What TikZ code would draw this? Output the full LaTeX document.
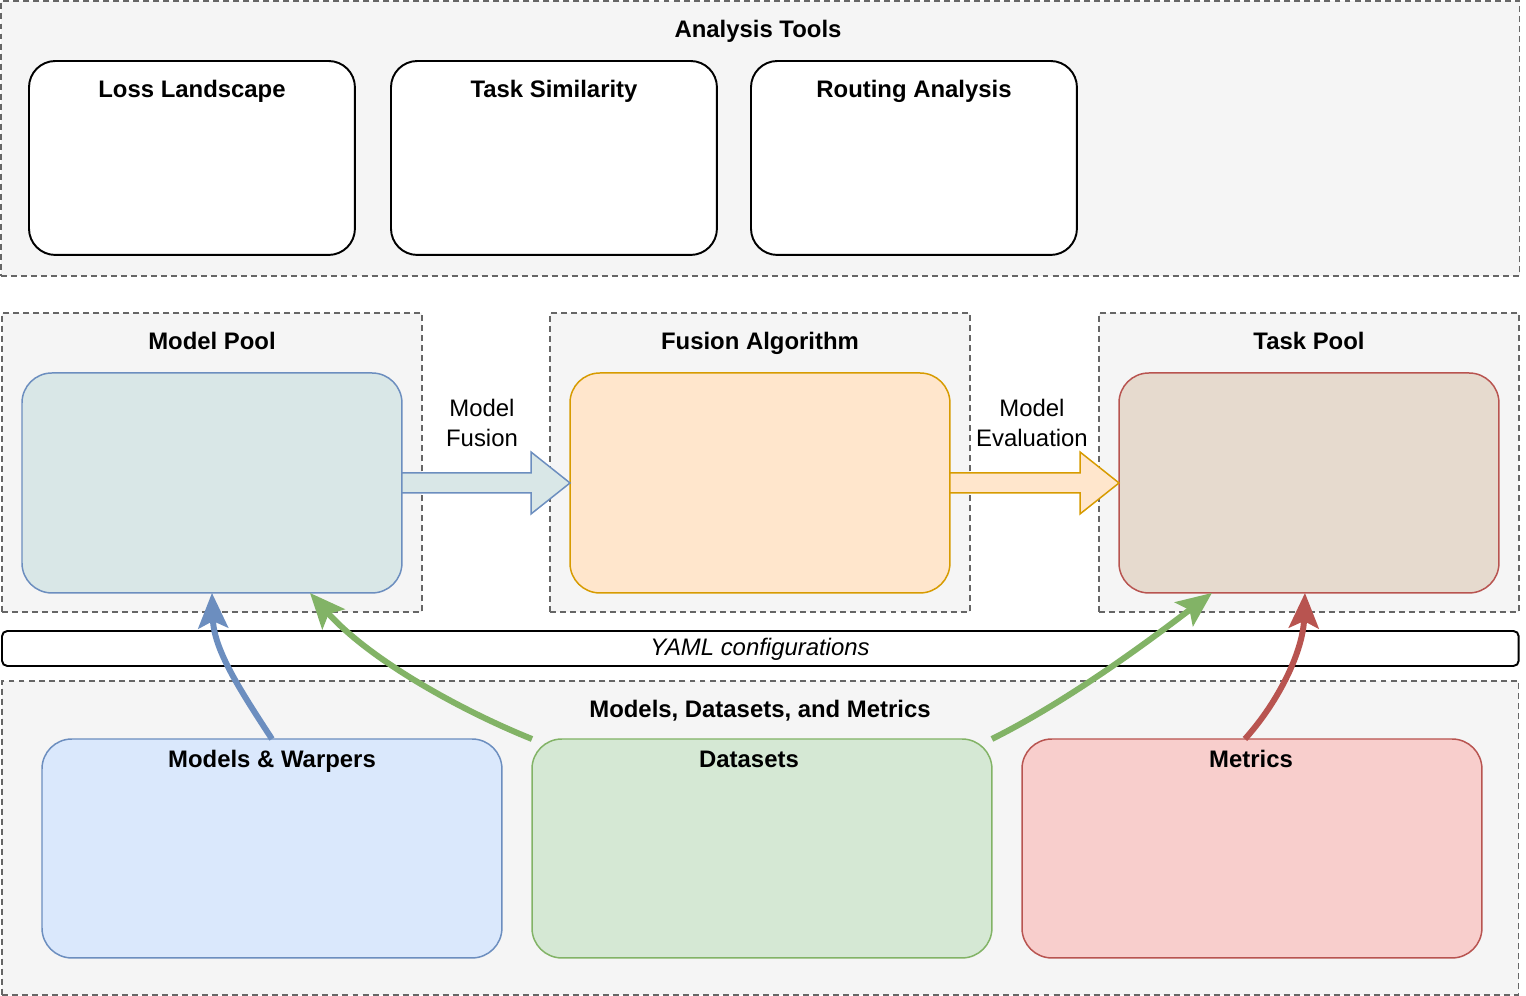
\documentclass[tikz,border=0pt]{standalone}
\usepackage{fontspec}
\setmainfont{Liberation Sans}
\usetikzlibrary{arrows.meta,calc}
\definecolor{cgray}{HTML}{666666}
\definecolor{cfill}{HTML}{F5F5F5}
\definecolor{bstroke}{HTML}{6C8EBF}
\definecolor{mpfill}{HTML}{D9E7E7}
\definecolor{ostroke}{HTML}{D79B00}
\definecolor{ofill}{HTML}{FFE6CC}
\definecolor{rstroke}{HTML}{B85450}
\definecolor{tpfill}{HTML}{E6DACE}
\definecolor{bfill}{HTML}{DAE8FC}
\definecolor{gstroke}{HTML}{82B366}
\definecolor{gfill}{HTML}{D5E8D4}
\definecolor{rfill}{HTML}{F8CECC}
\begin{document}
\begin{tikzpicture}[x=0.02cm,y=-0.02cm,
  font=\fontsize{13.6}{17}\selectfont,
  container/.style={draw=cgray, fill=cfill, dash pattern=on 3.4pt off 2.3pt, line width=0.7pt, inner sep=0pt, outer sep=0pt, anchor=north west},
  toolbox/.style={draw=black, fill=white, line width=1.1pt, rounded corners=15pt, inner sep=0pt, outer sep=0pt, anchor=north west, minimum width=6.52cm, minimum height=3.88cm},
  poolbox/.style={line width=0.85pt, rounded corners=17pt, inner sep=0pt, outer sep=0pt, anchor=north west, minimum width=7.6cm, minimum height=4.4cm},
  basebox/.style={line width=0.85pt, rounded corners=17pt, inner sep=0pt, outer sep=0pt, anchor=north west, minimum width=9.2cm, minimum height=4.38cm},
  title/.style={font=\fontsize{13.6}{17}\selectfont\bfseries, inner sep=0pt, anchor=base},
  lbl/.style={align=center, inner sep=0pt, font=\fontsize{13.6}{17}\selectfont},
  curvy/.style={line width=3.4pt, -{Stealth[length=20pt,width=17pt,inset=4pt]}},
  blockarrow/.style={line width=0.85pt, line join=miter}
]
\useasboundingbox (0,0) rectangle (1526,996);

% Analysis tools
\node[container, minimum width=30.38cm, minimum height=5.5cm] (at) at (1,1) {};
\node[title] (att) at (758,38) {Analysis Tools};
\node[toolbox] (ll) at (29,61) {};
\node[toolbox] (ts) at (391,61) {};
\node[toolbox] (ra) at (751,61) {};
\node[title] (llt) at (192,98) {Loss Landscape};
\node[title] (tst) at (554,98) {Task Similarity};
\node[title] (rat) at (914,98) {Routing Analysis};

% Pools
\node[container, minimum width=8.4cm, minimum height=5.98cm] (mpc) at (2,313) {};
\node[container, minimum width=8.4cm, minimum height=5.98cm] (fac) at (550,313) {};
\node[container, minimum width=8.4cm, minimum height=5.98cm] (tpc) at (1099,313) {};
\node[title] (mpt) at (212,350) {Model Pool};
\node[title] (fat) at (760,350) {Fusion Algorithm};
\node[title] (tpt) at (1309,350) {Task Pool};
\node[poolbox, draw=bstroke, fill=mpfill] (mp) at (22,373) {};
\node[poolbox, draw=ostroke, fill=ofill] (fa) at (570,373) {};
\node[poolbox, draw=rstroke, fill=tpfill] (tp) at (1119,373) {};

% Block arrows
\draw[blockarrow, draw=bstroke, fill=mpfill]
  ($(mp.east)+(0,-10)$) -- ($(fa.west)+(-39,-10)$) -- ($(fa.west)+(-39,-31)$) -- (fa.west)
  -- ($(fa.west)+(-39,31)$) -- ($(fa.west)+(-39,10)$) -- ($(mp.east)+(0,10)$) -- cycle;
\draw[blockarrow, draw=ostroke, fill=ofill]
  ($(fa.east)+(0,-10)$) -- ($(tp.west)+(-39,-10)$) -- ($(tp.west)+(-39,-31)$) -- (tp.west)
  -- ($(tp.west)+(-39,31)$) -- ($(tp.west)+(-39,10)$) -- ($(fa.east)+(0,10)$) -- cycle;
\node[lbl] (mfl) at (482,423) {Model\\Fusion};
\node[lbl] (mel) at (1032,423) {Model\\Evaluation};

% YAML bar
\node[draw=black, fill=white, line width=1.1pt, rounded corners=3pt, inner sep=0pt, outer sep=0pt, anchor=north west, minimum width=30.34cm, minimum height=0.7cm] (yaml) at (2,631) {};
\node[inner sep=0pt, anchor=base, font=\fontsize{13.6}{17}\selectfont\itshape] (yamlt) at (760,656) {YAML configurations};

% Bottom
\node[container, minimum width=30.34cm, minimum height=6.28cm] (bc) at (2,681) {};
\node[title] (bct) at (760,718) {Models, Datasets, and Metrics};
\node[basebox, draw=bstroke, fill=bfill] (mw) at (42,739) {};
\node[basebox, draw=gstroke, fill=gfill] (ds) at (532,739) {};
\node[basebox, draw=rstroke, fill=rfill] (met) at (1022,739) {};
\node[title] (mwt) at (272,768) {Models \& Warpers};
\node[title] (dst) at (749,768) {Datasets};
\node[title] (mett) at (1251,768) {Metrics};

% Curved arrows
\draw[curvy, draw=bstroke] (mw.north) .. controls (240,690) and (214,650) .. (mp.south);
\draw[curvy, draw=gstroke] (ds.north west) .. controls (460,710) and (370,660) .. ($(mp.south)+(98,0)$);
\draw[curvy, draw=gstroke] (ds.north east) .. controls (1070,700) and (1150,640) .. ($(tp.south)+(-97,0)$);
\draw[curvy, draw=rstroke] ($(met.north)+(-7,0)$) .. controls (1280,700) and (1303,650) .. ($(tp.south)+(-4,0)$);
\end{tikzpicture}
\end{document}
